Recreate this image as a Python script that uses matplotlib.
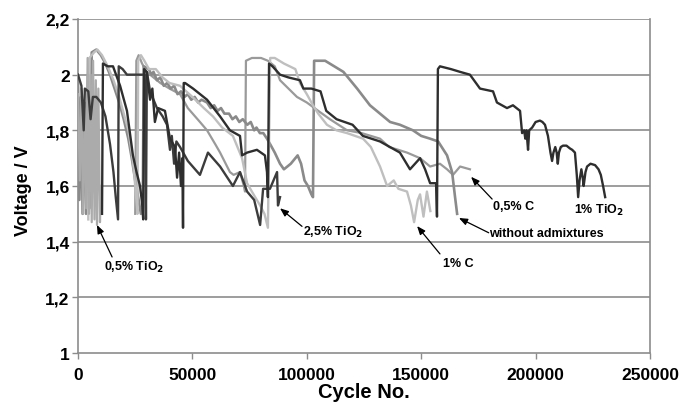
import matplotlib
matplotlib.use("Agg")
import matplotlib.pyplot as plt
from matplotlib.ticker import FuncFormatter

plt.rcParams['font.family'] = ['Liberation Sans', 'DejaVu Sans']

# ---------------- data (cycle number, voltage) ----------------
tio2_05_x = [0, 800, 1500, 2200, 3000, 3600, 4200, 4800, 5500, 6000, 6600, 7200, 7800, 8300, 8900, 9600, 10000]
tio2_05_y = [1.93, 1.62, 1.95, 1.50, 1.88, 1.52, 2.06, 1.50, 2.00, 1.47, 2.05, 1.48, 1.98, 1.46, 1.95, 1.47, 1.60]

woadm_x = [0, 600, 1300, 2000, 2800, 3500, 4300, 5000, 6000, 8000, 10000, 12000, 14000, 16000, 18000,
           20000, 22000, 23500, 25000, 26500, 27500, 28300, 28700, 31000, 32000, 33000, 34500, 36000,
           37500, 39000, 40500, 42000, 43500, 45000, 46500, 48000, 49500, 51000, 52500, 54000, 56400,
           58000, 59500, 61000, 62500, 64000, 66000, 67500, 69000, 70500, 72000, 74000, 75500, 77000,
           78000, 79500, 81000, 82600, 84000, 86000, 88300, 90000, 93000, 96000,
           97500, 99000, 100500, 102000, 102700, 103200, 108000, 112000, 116000, 122000, 127600, 132000,
           136400, 140700, 146400, 150000, 153900, 157400, 161300, 163500, 164800, 165700]
woadm_y = [1.98, 1.55, 1.92, 1.50, 1.90, 1.50, 2.00, 1.52, 2.08, 2.09, 2.07, 2.04, 2.00, 1.95, 1.90,
           1.84, 1.77, 1.70, 1.62, 1.55, 1.50, 1.52, 2.03, 2.02, 2.00, 2.01, 1.98, 1.99,
           1.96, 1.97, 1.95, 1.96, 1.93, 1.94, 1.92, 1.93, 1.91, 1.92, 1.90, 1.91, 1.90,
           1.88, 1.89, 1.87, 1.88, 1.86, 1.86, 1.84, 1.85, 1.83, 1.84, 1.82, 1.83, 1.80,
           1.81, 1.79, 1.79, 1.77, 1.75, 1.72, 1.68, 1.66, 1.68, 1.71,
           1.68, 1.62, 1.60, 1.57, 1.56, 2.05, 2.05, 2.03, 2.01, 1.95, 1.89, 1.86,
           1.83, 1.82, 1.80, 1.78, 1.77, 1.76, 1.71, 1.65, 1.56, 1.50]

c05_x = [25000, 25500, 26500, 28000, 30000, 33000, 36000, 40000, 44600, 48000, 53300, 56400, 60000,
         62100, 66400, 68000, 70800, 72500, 73000, 73400, 76000, 80000, 83000, 86000, 88300, 92000,
         95700, 100000, 105000, 110100, 117600, 124000, 128000, 132000, 136000, 140000, 143800,
         149500, 153900, 158200, 161300, 163900, 167000, 171300]
c05_y = [1.50, 2.05, 2.07, 2.04, 2.01, 1.99, 1.97, 1.95, 1.93, 1.88, 1.83, 1.80, 1.75,
         1.72, 1.65, 1.64, 1.65, 1.60, 1.58, 2.05, 2.06, 2.06, 2.05, 2.03, 1.98, 1.95,
         1.92, 1.90, 1.87, 1.84, 1.80, 1.79, 1.78, 1.77, 1.74, 1.73, 1.72,
         1.70, 1.67, 1.68, 1.66, 1.64, 1.67, 1.66]

c1_x = [4500, 5000, 7000, 8500, 10500, 13000, 15500, 18000, 20000, 22000, 23500, 24500, 25500, 26000,
        26300, 27500, 29000, 31000, 34000, 37000, 40000, 44600, 50000, 55000, 59000, 63000, 67700,
        71700, 73900, 76000, 79600, 81500, 83000, 84000, 86000, 90000, 95000, 97000, 100000, 102700,
        105000, 108800, 113000, 117600, 124600, 128000, 132000, 135100, 138000, 140000, 143800,
        145500, 146900, 148500, 149500, 151000, 152500, 154000]
c1_y = [1.48, 2.06, 2.08, 2.09, 2.07, 2.03, 1.98, 1.92, 1.86, 1.80, 1.72, 1.65, 1.55, 1.50,
        2.05, 2.07, 2.05, 2.02, 2.02, 1.99, 1.97, 1.96, 1.92, 1.88, 1.85, 1.81, 1.78,
        1.70, 1.61, 1.58, 1.53, 1.50, 1.45, 2.06, 2.06, 2.04, 2.02, 1.97, 1.93, 1.89,
        1.86, 1.82, 1.80, 1.79, 1.77, 1.74, 1.67, 1.60, 1.62, 1.59, 1.58,
        1.53, 1.47, 1.55, 1.57, 1.49, 1.58, 1.51]

tio2_1_x = [10500, 10900, 13000, 15300, 18400, 21400, 24000, 25600, 27100, 28000, 28500, 28900,
            30000, 31500, 32500, 33600, 35000, 38000, 40200, 42400, 43300, 44200, 45000, 45600, 45900,
            46200, 46800, 50300, 56400, 62100, 66400, 70800, 71700, 73900, 78200, 81700, 82600,
            83000, 83500, 85000, 88300, 92000, 97000, 98500, 102000, 106000, 108500, 113000,
            120000, 124500, 132000, 140700, 145100, 149500, 151700, 153900, 156500, 156900,
            157300, 158200, 163000, 167000, 171300, 175700, 181400, 183100, 187500, 190100,
            193200, 194100, 195000, 195500, 196000, 196300, 196700, 197200, 198500, 200000, 201900,
            203000, 204100, 205400, 206500, 207200, 207800, 208600, 209200, 209700, 210200, 211000,
            212000, 213500, 215000, 216000, 217200, 218000, 218600, 219200, 220000, 220600, 221000,
            221800, 222500, 224000, 226000, 227500, 228500, 229500, 230400]
tio2_1_y = [1.50, 2.04, 2.03, 2.03, 1.96, 1.87, 1.71, 1.65, 1.60, 1.54, 1.48, 2.02,
            2.01, 1.91, 1.95, 1.83, 1.88, 1.87, 1.77, 1.74, 1.63, 1.72, 1.60, 1.70, 1.45,
            1.97, 1.97, 1.95, 1.91, 1.85, 1.80, 1.78, 1.71, 1.72, 1.73, 1.71, 1.65,
            1.56, 2.04, 2.03, 2.00, 1.99, 1.98, 1.95, 1.95, 1.94, 1.87, 1.84,
            1.82, 1.78, 1.76, 1.72, 1.66, 1.70, 1.66, 1.61, 1.61, 1.49,
            2.02, 2.03, 2.02, 2.01, 2.00, 1.95, 1.94, 1.90, 1.88, 1.89,
            1.87, 1.79, 1.80, 1.77, 1.80, 1.77, 1.73, 1.80, 1.81, 1.83, 1.835,
            1.83, 1.82, 1.78, 1.72, 1.69, 1.72, 1.74, 1.72, 1.68, 1.72, 1.74,
            1.745, 1.745, 1.735, 1.73, 1.72, 1.64, 1.56, 1.62, 1.66, 1.63, 1.60,
            1.65, 1.67, 1.68, 1.675, 1.66, 1.64, 1.60, 1.56]

tio2_25_x = [0, 1500, 2500, 3000, 4500, 5500, 6500, 8000, 10000, 12000, 14000, 15500, 16500, 17500,
             17800, 19500, 21400, 26000, 29000, 29400, 29700, 30100, 31500, 34500, 37000, 38900, 40200,
             41000, 42000, 43000, 44600, 48000, 53300, 56800, 62100, 67700, 70800, 73900, 77000, 79600,
             80900, 83900, 87000, 87400, 88300]
tio2_25_y = [2.00, 1.96, 1.80, 1.95, 1.94, 1.84, 1.92, 1.92, 1.90, 1.85, 1.75, 1.65, 1.56, 1.48,
             2.03, 2.02, 2.00, 2.00, 2.00, 1.80, 1.48, 2.01, 1.94, 1.88, 1.85, 1.82, 1.73,
             1.78, 1.68, 1.76, 1.74, 1.69, 1.64, 1.72, 1.67, 1.60, 1.65, 1.58, 1.55, 1.46,
             1.59, 1.59, 1.65, 1.53, 1.56]

x_ticks = [0, 50000, 100000, 150000, 200000, 250000]
y_ticks = [1.0, 1.2, 1.4, 1.6, 1.8, 2.0, 2.2]

# ---------------- figure ----------------
fig = plt.figure(figsize=(6.83, 4.06), dpi=100)
ax = fig.add_axes([78/683, 52/406, 572/683, 334/406])

grid_c = '#8c8c8c'
for yv in y_ticks[1:]:
    ax.axhline(yv, color=grid_c, lw=1.2, zorder=1)

ax.plot(c05_x, c05_y, color='#9a9a9a', lw=1.6, zorder=3)
ax.plot(woadm_x, woadm_y, color='#8a8a8a', lw=1.9, zorder=3)
ax.plot(c1_x, c1_y, color='#bfbfbf', lw=1.7, zorder=3)
ax.plot(tio2_05_x, tio2_05_y, color='#ababab', lw=1.6, zorder=3)
ax.plot(tio2_25_x, tio2_25_y, color='#3c3c3c', lw=1.7, zorder=4)
ax.plot(tio2_1_x, tio2_1_y, color='#2e2e2e', lw=1.7, zorder=4)

ax.set_xlim(0, 250000)
ax.set_ylim(1.0, 2.2)
ax.set_xticks(x_ticks)
ax.set_yticks(y_ticks)
ax.yaxis.set_major_formatter(FuncFormatter(lambda v, p: ('%g' % v).replace('.', ',')))
ax.xaxis.set_major_formatter(FuncFormatter(lambda v, p: '%d' % v))
ax.tick_params(direction='out', length=4, width=1, color=grid_c, labelsize=12.5)
ax.tick_params(axis='x', pad=6)
ax.tick_params(axis='y', pad=2)
for lab in ax.get_xticklabels() + ax.get_yticklabels():
    lab.set_fontweight('bold')
for s in ['left', 'bottom', 'right']:
    ax.spines[s].set_color(grid_c)
    ax.spines[s].set_linewidth(1.2)
ax.spines['top'].set_visible(False)

ax.set_xlabel('Cycle No.', fontsize=14.5, fontweight='bold')
ax.set_ylabel('Voltage / V', fontsize=13, fontweight='bold')
ax.xaxis.set_label_coords(0.5, -0.087)
ax.yaxis.set_label_coords(-0.08, 0.49)

ann_kw = dict(fontsize=9, fontweight='bold', va='center', ha='left', zorder=6)
arrow = dict(arrowstyle='-|>,head_length=0.5,head_width=0.2', color='black', lw=0.9, shrinkA=0, shrinkB=0)

ax.annotate('', xy=(8300, 1.46), xytext=(14900, 1.345), arrowprops=arrow)
ax.text(11400, 1.31, '0,5% TiO$_\\mathbf{2}$', **ann_kw)

ax.annotate('', xy=(88300, 1.52), xytext=(97900, 1.455), arrowprops=arrow)
ax.text(98300, 1.438, '2,5% TiO$_\\mathbf{2}$', **ann_kw)

ax.annotate('', xy=(148200, 1.456), xytext=(158200, 1.356), arrowprops=arrow)
ax.text(159500, 1.325, '1% C', **ann_kw)

ax.annotate('', xy=(166500, 1.485), xytext=(179500, 1.432), arrowprops=arrow)
ax.text(179700, 1.431, 'without admixtures', **ann_kw)

ax.annotate('', xy=(171800, 1.633), xytext=(181000, 1.553), arrowprops=arrow)
ax.text(181400, 1.528, '0,5% C', **ann_kw)

ax.text(216800, 1.517, '1% TiO$_\\mathbf{2}$', **ann_kw)

fig.savefig('out.png', dpi=100)
